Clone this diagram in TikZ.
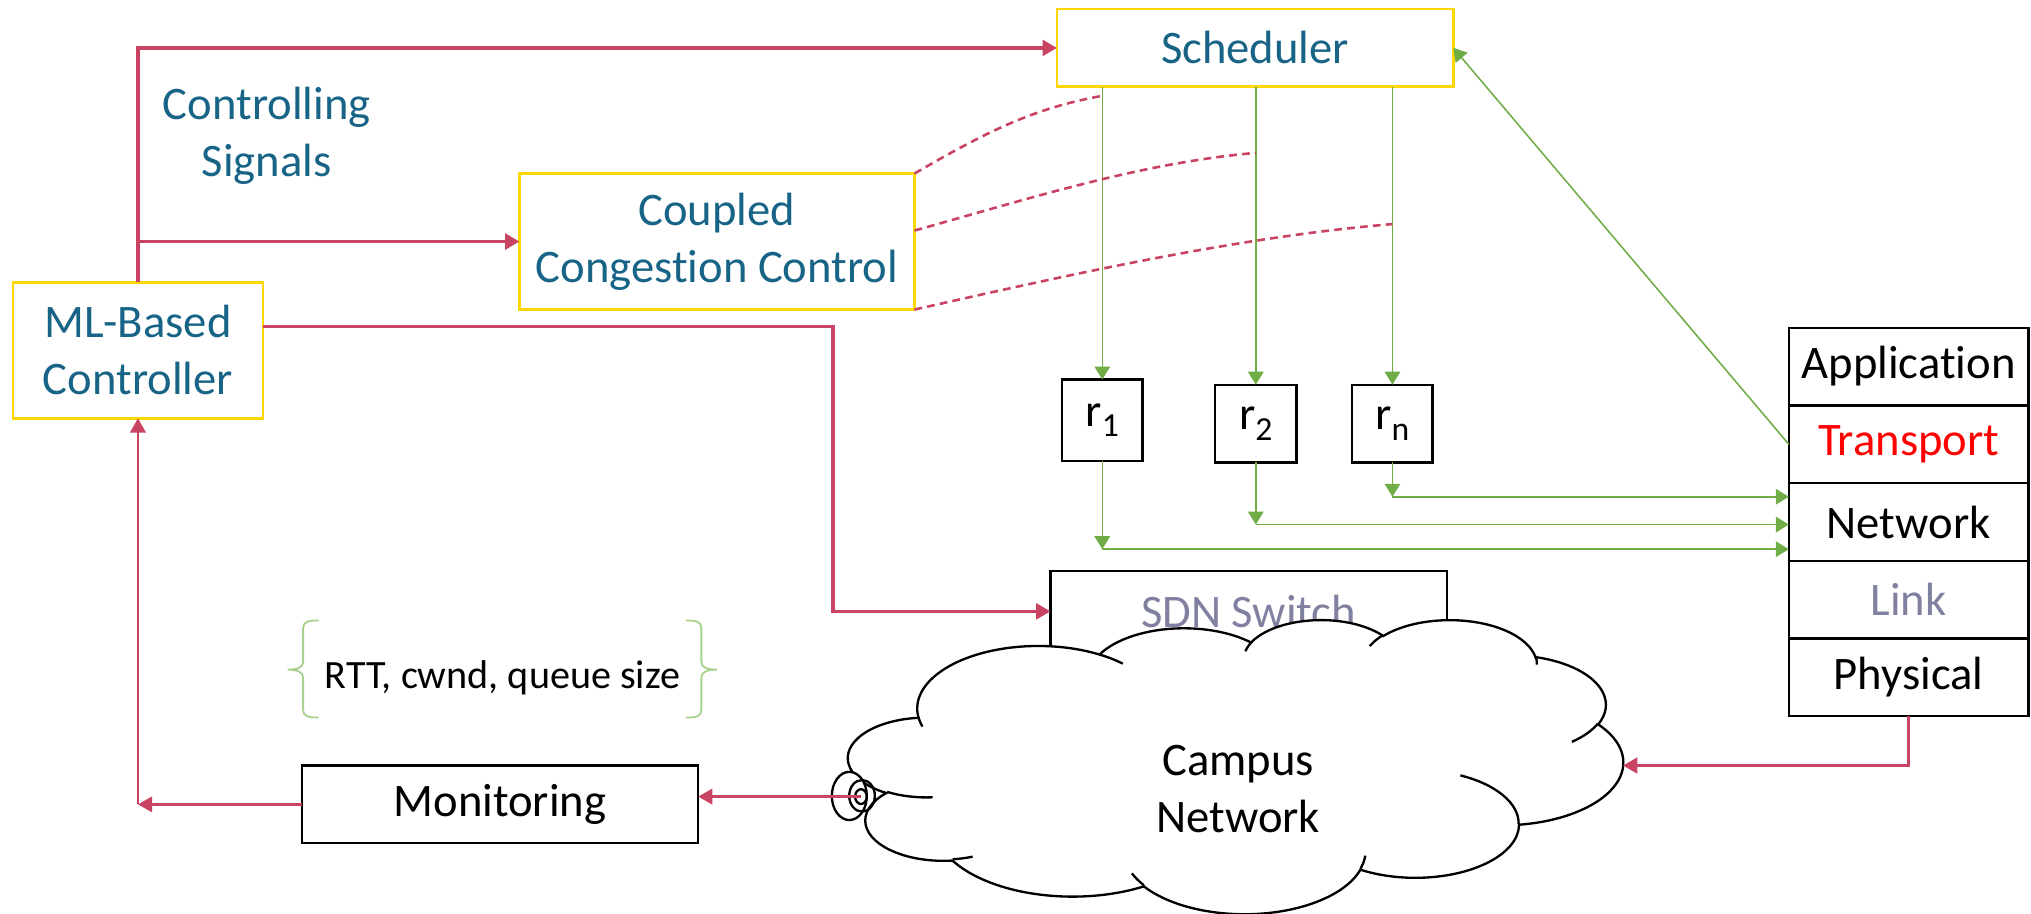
\documentclass[tikz,border=0pt]{standalone}
\usepackage{fontspec}
\setmainfont{Carlito}[Ligatures=NoCommon]
\usetikzlibrary{arrows.meta,calc}
\definecolor{cred}{RGB}{200,68,98}
\definecolor{cyel}{RGB}{255,215,0}
\definecolor{cblue}{RGB}{24,100,135}
\definecolor{cgreen}{RGB}{112,173,71}
\definecolor{cbrace}{RGB}{169,209,142}
\definecolor{cgray}{RGB}{128,128,160}
\makeatletter
\pgfmathdeclarefunction{vpar}{3}{%
  \begingroup
  \pgfmathparse{atan2((#2)*sin(#1),(#3)*cos(#1))}%
  \let\vparT\pgfmathresult
  \pgfmathparse{\vparT+360*round(((#1)-\vparT)/360)}%
  \pgfmath@smuggleone\pgfmathresult
  \endgroup}
\makeatother
\newcommand\sbs[1]{\raisebox{-4pt}{\fontsize{13}{13}\selectfont #1}}
\begin{document}
\begin{tikzpicture}[x=0.5pt,y=-0.5pt,
  every node/.style={font=\fontsize{18}{22}\selectfont, align=center, inner sep=0pt, outer sep=0pt},
  ybox/.style={draw=cyel, line width=1.1pt, text=cblue},
  bbox/.style={draw=black, line width=0.9pt},
  layer/.style={bbox, minimum width=92.5pt, minimum height=30pt},
  rarrow/.style={draw=cred, line width=1.4pt, -{Triangle[length=5.5pt,width=6pt]}},
  rthin/.style={draw=cred, line width=0.9pt, -{Triangle[length=5.5pt,width=6pt]}},
  garrow/.style={draw=cgreen, line width=0.6pt, -{Triangle[length=5pt,width=6pt]}},
  rdash/.style={draw=cred, line width=1pt, dash pattern=on 3pt off 2pt},
  cloudline/.style={draw=black, line width=0.9pt},
  bracestyle/.style={draw=cbrace, line width=0.7pt},
]
\useasboundingbox (0,0) rectangle (1568,705);

% nodes
\node[ybox, minimum width=153pt, minimum height=30pt] (sched) at (969,37) {Scheduler};
\node[ybox, minimum width=152.5pt, minimum height=52.5pt] (ccc) at (553.5,186.5) {Coupled\\Congestion Control};
\node[ybox, minimum width=96.5pt, minimum height=52.5pt] (ml) at (106.5,270.5) {ML-Based\\Controller};
\node[text=cblue] (sig) at (206,105) {Controlling\\Signals};

\node[bbox, minimum width=31pt, minimum height=31.5pt] (r1) at (851,324.5) {r\sbs{1}};
\node[bbox, minimum width=31.5pt, minimum height=30pt] (r2) at (969.5,327) {r\sbs{2}};
\node[bbox, minimum width=31pt, minimum height=30pt] (rn) at (1075,327) {r\sbs{n}};

\node[layer] (app) at (1473.5,283) {Application};
\node[layer, text=red] (trans) at (1473.5,343) {Transport};
\node[layer] (net) at (1473.5,403) {Network};
\node[layer, text=cgray] (link) at (1473.5,463) {Link};
\node[layer] (phys) at (1473.5,523) {Physical};

\node[bbox, minimum width=153pt, minimum height=40pt,
  label={[text=cgray, yshift=4.5pt]center:SDN Switch}] (sdn) at (964,481) {};

\node[bbox, minimum width=153pt, minimum height=30pt] (mon) at (386,621) {Monitoring};
\node[font=\fontsize{15.5}{18}\selectfont] (rtt) at (388,523) {RTT, cwnd, queue size};

% braces
\draw[bracestyle] (246,479) .. controls (238,479) and (234,480) .. (234,485) -- (234,511)
  .. controls (234,515) and (230,517) .. (222,517) .. controls (230,517) and (234,519) .. (234,523)
  -- (234,548) .. controls (234,553) and (238,554) .. (246,554);
\draw[bracestyle] (529.5,479) .. controls (537.5,479) and (541.5,480) .. (541.5,485) -- (541.5,511)
  .. controls (541.5,515) and (545.5,517) .. (553.5,517) .. controls (545.5,517) and (541.5,519) .. (541.5,523)
  -- (541.5,548) .. controls (541.5,553) and (537.5,554) .. (529.5,554);

% cloud
\def\ck{1}
\begin{scope}[shift={(655,478)}, x=0.69213pt, y=-0.26273pt]
 \draw[cloudline, fill=white] (39,143.7)
   \foreach \wr/\hr/\st/\sw in {67.53/91.90/-190.487483/123.780533,
     53.33/72.67/-144.102383/89.945233, 43.65/59.45/-145.807917/99.723017,
     48.57/65.95/-130.986067/117.241733, 53.33/72.73/-78.708883/109.026917,
     67.75/92.20/-46.26725/130.269, 57.85/78.67/0.625017/114.033333,
     67.52/92.15/22.4516/115.17255, 77.20/105.43/66.242633/75.711017,
     43.60/59.18/-274.942083/146.735567, 43.45/59.45/-246.8285/152.51885}
   { arc[start angle={vpar(\st,\wr*\ck,\hr)}, end angle={vpar(\st+\sw,\wr*\ck,\hr)}, x radius=\wr, y radius=\hr] } -- cycle;
 \draw[cloudline]
   \foreach \px/\py/\wr/\hr/\st/\sw in {46.93/261.77/43.45/59.45/86.742/26.4295,
     69.28/348.99/43.60/59.18/73.61047/11.44747,
     164.78/390.90/67.52/92.15/137.62415/14.0811,
     288.27/347.51/67.52/92.15/6.45327/15.99835,
     341.29/229.54/57.85/78.67/-70.29235/70.91737,
     417.98/153.54/53.33/72.73/30.31803/27.7515,
     383.24/54.26/48.57/65.95/-13.74433/14.8589,
     290.78/39.52/48.57/65.95/-149.18145/18.19537,
     221.41/47.20/43.65/59.45/-163.49427/17.68635,
     140.00/51.92/67.53/91.90/-66.70695/12.31935,
     41.27/157.89/67.53/91.90/157.65435/11.85817}
   { (\px,\py) arc[start angle={vpar(\st,\wr*\ck,\hr)}, end angle={vpar(\st+\sw,\wr*\ck,\hr)}, x radius=\wr, y radius=\hr] };
\end{scope}
\node (campus) at (956,609) {Campus\\Network};

% eye
\draw[cloudline, fill=white] (655.7,614.5) ellipse [x radius=13.5, y radius=18.6];
\draw[cloudline] (665.5,614.4) ellipse [x radius=9.9, y radius=12.2];
\draw[cloudline] (664.7,615) ellipse [x radius=4.5, y radius=5.7];
\coordinate (eye) at (664.7,615);

% red connectors
\draw[rarrow] (ml.north) |- (sched.west);
\draw[rarrow] (ml.north |- ccc.west) -- (ccc.west);
\coordinate (sdnin) at ([yshift=-15.5pt]sdn.north west);
\draw[rarrow] ([yshift=9.25pt]ml.east) -| ([xshift=-84pt]sdnin) -- (sdnin);
\draw[rthin] (eye) -- (eye -| mon.east);
\coordinate (corner) at (ml.south |- mon.west);
\draw[rthin] (mon.west) -- (corner);
\draw[rthin] (corner) -- (ml.south);
\coordinate (cloudin) at (1253,591);
\draw[rthin, line width=1.1pt] (phys.south) |- (cloudin);

% green connectors
\foreach \r in {r1,r2,rn} \draw[garrow] (\r.north |- sched.south) -- (\r.north);
\path (r1.south) ++(0,68) coordinate (g1);
\path (r2.south) ++(0,48) coordinate (g2);
\path (rn.south) ++(0,26.5) coordinate (g3);
\foreach \g/\r in {g1/r1,g2/r2,g3/rn} {
  \draw[garrow] (\r.south) -- (\g);
  \draw[garrow] (\g) -- (\g -| net.west);
}
\draw[garrow] (trans.west) -- (sched.east);

% dashed curves
\path (r1.north |- sched.south) ++(0,7) coordinate (d1);
\path (r2.north |- sched.south) ++(0,51) coordinate (d2);
\path (rn.north |- sched.south) ++(0,106) coordinate (d3);
\draw[rdash] (ccc.north east) .. controls +(60,-35) and +(-50,9) .. (d1);
\draw[rdash] ([yshift=4.25pt]ccc.east) .. controls +(90,-25) and +(-90,8) .. (d2);
\draw[rdash] (ccc.south east) .. controls +(120,-27) and +(-120,10) .. (d3);
\end{tikzpicture}
\end{document}
